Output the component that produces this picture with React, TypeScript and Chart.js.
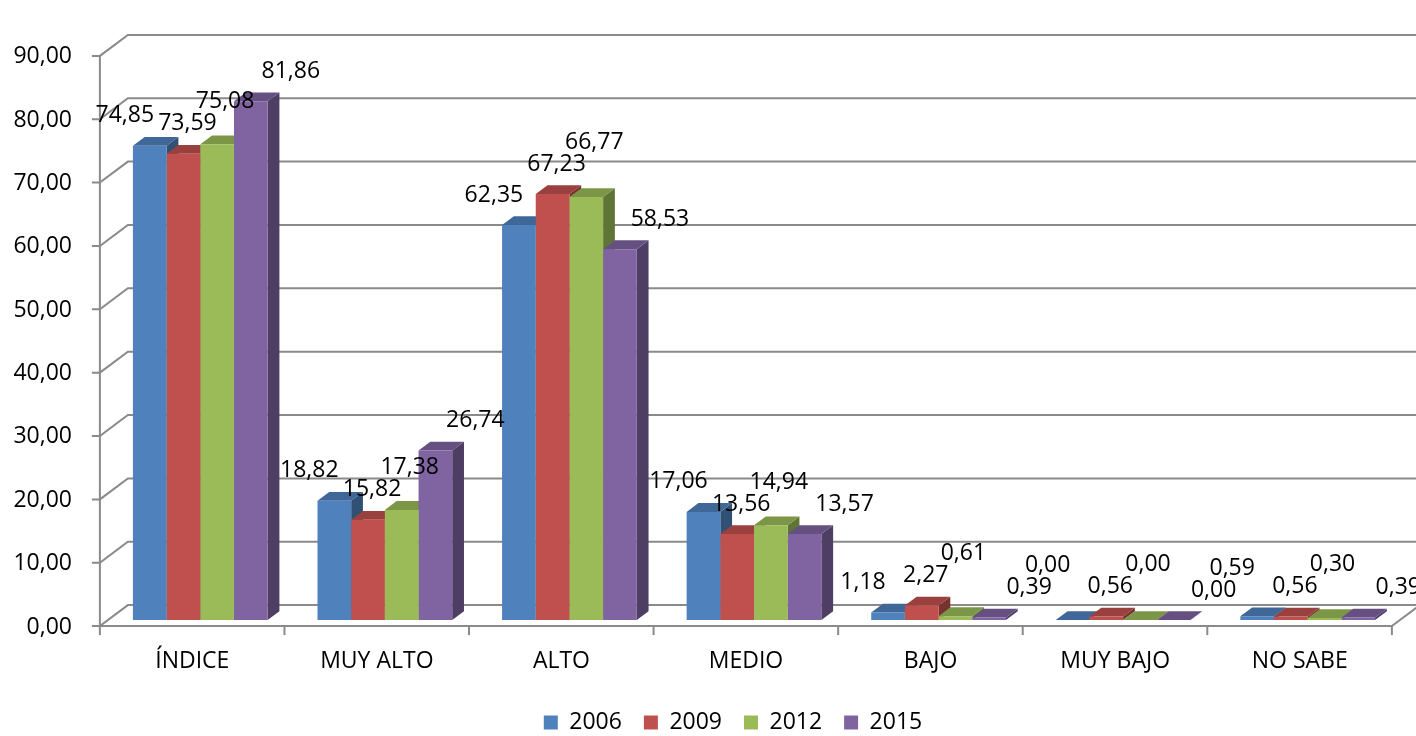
import React, { useEffect, useRef } from 'react';
import { Chart, registerables } from 'chart.js';

Chart.register(...registerables);

const categories = ['ÍNDICE', 'MUY ALTO', 'ALTO', 'MEDIO', 'BAJO', 'MUY BAJO', 'NO SABE'];
const seriesNames = ['2006', '2009', '2012', '2015'];
const values2006 = [74.85, 18.82, 62.35, 17.06, 1.18, 0.0, 0.59];
const values2009 = [73.59, 15.82, 67.23, 13.56, 2.27, 0.56, 0.56];
const values2012 = [75.08, 17.38, 66.77, 14.94, 0.61, 0.0, 0.3];
const values2015 = [81.86, 26.74, 58.53, 13.57, 0.39, 0.0, 0.39];
const yMin = 0;
const yMax = 90;
const yStep = 10;

const seriesValues = [values2006, values2009, values2012, values2015];
const seriesColors = ['#4F81BD', '#C0504D', '#9BBB59', '#8064A2'];

const FONT = "'Open Sans', 'DejaVu Sans', sans-serif";
const FONT_SIZE = 23;
const DEPTH_X = 28;
const DEPTH_Y = -21;
const FRONT_FRAC = 0.29;
const BAR_FRAC = 0.42;
const GRID_COLOR = '#8a8a8a';
const LABEL_DX = [-25, 4, 8, 40];
const LEGEND_LEFT = 66;

const fmt = (v: number) => v.toFixed(2).replace('.', ',');

function shade(hex: string, f: number) {
  const n = parseInt(hex.slice(1), 16);
  const r = Math.round(((n >> 16) & 255) * f);
  const g = Math.round(((n >> 8) & 255) * f);
  const b = Math.round((n & 255) * f);
  return `rgb(${r},${g},${b})`;
}

const walls3d = {
  id: 'walls3d',
  afterLayout(chart: any) {
    const lg = chart.legend;
    if (lg) {
      lg.left = LEGEND_LEFT;
    }
  },
  beforeDatasetsDraw(chart: any) {
    const { ctx, chartArea } = chart;
    const ys = chart.scales.y;
    const fx = -DEPTH_X * FRONT_FRAC;
    const fy = -DEPTH_Y * FRONT_FRAC;
    const bx = DEPTH_X * (1 - FRONT_FRAC);
    const by = DEPTH_Y * (1 - FRONT_FRAC);
    const left = chartArea.left;
    const right = chartArea.right;
    ctx.save();
    ctx.strokeStyle = GRID_COLOR;
    ctx.lineWidth = 2;
    ys.ticks.forEach((t: any) => {
      const py = ys.getPixelForValue(t.value);
      ctx.beginPath();
      ctx.moveTo(left + fx - 8, py + fy);
      ctx.lineTo(left + fx, py + fy);
      ctx.lineTo(left + bx, py + by);
      ctx.lineTo(chart.width + 5, py + by);
      ctx.stroke();
    });
    const y0 = ys.getPixelForValue(yMin);
    const yTop = ys.getPixelForValue(yMax);
    ctx.beginPath();
    ctx.moveTo(left + fx, yTop + fy);
    ctx.lineTo(left + fx, y0 + fy);
    ctx.lineTo(right + fx, y0 + fy);
    ctx.lineTo(right + bx, y0 + by);
    ctx.stroke();
    const n = categories.length;
    for (let k = 0; k <= n; k++) {
      const xx = left + fx + (k * (right - left)) / n;
      ctx.beginPath();
      ctx.moveTo(xx, y0 + fy);
      ctx.lineTo(xx, y0 + fy + 9);
      ctx.stroke();
    }
    const dx = DEPTH_X * BAR_FRAC;
    const dy = DEPTH_Y * BAR_FRAC;
    chart.data.datasets.forEach((ds: any, di: number) => {
      const meta = chart.getDatasetMeta(di);
      const color = seriesColors[di];
      meta.data.forEach((bar: any) => {
        const p = bar.getProps(['x', 'y', 'base', 'width'], true);
        const l = p.x - p.width / 2;
        const r = p.x + p.width / 2;
        const top = Math.min(p.y, p.base);
        const base = p.base;
        ctx.fillStyle = shade(color, 0.62);
        ctx.beginPath();
        ctx.moveTo(r, top);
        ctx.lineTo(r + dx, top + dy);
        ctx.lineTo(r + dx, base + dy);
        ctx.lineTo(r, base);
        ctx.closePath();
        ctx.fill();
        ctx.fillStyle = shade(color, 0.8);
        ctx.beginPath();
        ctx.moveTo(l, top);
        ctx.lineTo(l + dx, top + dy);
        ctx.lineTo(r + dx, top + dy);
        ctx.lineTo(r, top);
        ctx.closePath();
        ctx.fill();
      });
    });
    ctx.restore();
  },
  afterDatasetsDraw(chart: any) {
    const { ctx } = chart;
    ctx.save();
    ctx.font = `${FONT_SIZE}px ${FONT}`;
    ctx.fillStyle = '#000';
    ctx.textAlign = 'center';
    ctx.textBaseline = 'middle';
    const h = 22;
    const placed: { x: number; y: number; w: number }[] = [];
    for (let ci = 0; ci < categories.length; ci++) {
      chart.data.datasets.forEach((ds: any, di: number) => {
        const bar = chart.getDatasetMeta(di).data[ci];
        const p = bar.getProps(['x', 'y'], true);
        const text = fmt(ds.data[ci]);
        const w = ctx.measureText(text).width;
        const lx = p.x + LABEL_DX[di];
        let ly = p.y - 30;
        let moved = true;
        let guard = 0;
        while (moved && guard < 12) {
          moved = false;
          guard++;
          for (const q of placed) {
            if (Math.abs(q.x - lx) < (q.w + w) / 2 && Math.abs(q.y - ly) < h) {
              ly = q.y - h;
              moved = true;
            }
          }
        }
        placed.push({ x: lx, y: ly, w });
        ctx.fillText(text, lx, ly);
      });
    }
    ctx.restore();
  },
};

export default function App() {
  const ref = useRef<HTMLCanvasElement | null>(null);
  useEffect(() => {
    if (!ref.current) return;
    const chart = new Chart(ref.current, {
      type: 'bar',
      data: {
        labels: categories,
        datasets: seriesNames.map((name, i) => ({
          label: name,
          data: seriesValues[i],
          backgroundColor: seriesColors[i],
          borderWidth: 0,
          barPercentage: 1,
          categoryPercentage: 0.73,
        })),
      },
      options: {
        responsive: false,
        animation: false,
        devicePixelRatio: 1,
        layout: { padding: { left: 0, right: 16, top: 27, bottom: -8 } },
        plugins: {
          tooltip: { enabled: false },
          legend: {
            position: 'bottom',
            labels: {
              boxWidth: 14,
              boxHeight: 14,
              padding: 22,
              color: '#000',
              font: { family: FONT, size: FONT_SIZE },
            },
          },
        },
        scales: {
          x: {
            grid: { display: false, drawTicks: false, drawOnChartArea: false },
            border: { display: false },
            ticks: {
              color: '#000',
              font: { family: FONT, size: FONT_SIZE },
              padding: 28,
              labelOffset: -8,
              maxRotation: 0,
              autoSkip: false,
            },
            afterFit: (s: any) => {
              s.height = 69;
            },
          },
          y: {
            min: yMin,
            max: yMax,
            grid: { display: false, drawTicks: false, drawOnChartArea: false },
            border: { display: false },
            ticks: {
              stepSize: yStep,
              color: '#000',
              font: { family: FONT, size: FONT_SIZE },
              padding: 36,
              labelOffset: 7,
              callback: (v: any) => fmt(Number(v)),
            },
            afterFit: (s: any) => {
              s.width = 108;
            },
          },
        },
      },
      plugins: [walls3d],
    });
    return () => chart.destroy();
  }, []);
  return (
    <div style={{ position: 'fixed', left: 0, top: 0, width: 1416, height: 736, background: '#fff' }}>
      <canvas ref={ref} width={1416} height={736} style={{ display: 'block' }} />
    </div>
  );
}
